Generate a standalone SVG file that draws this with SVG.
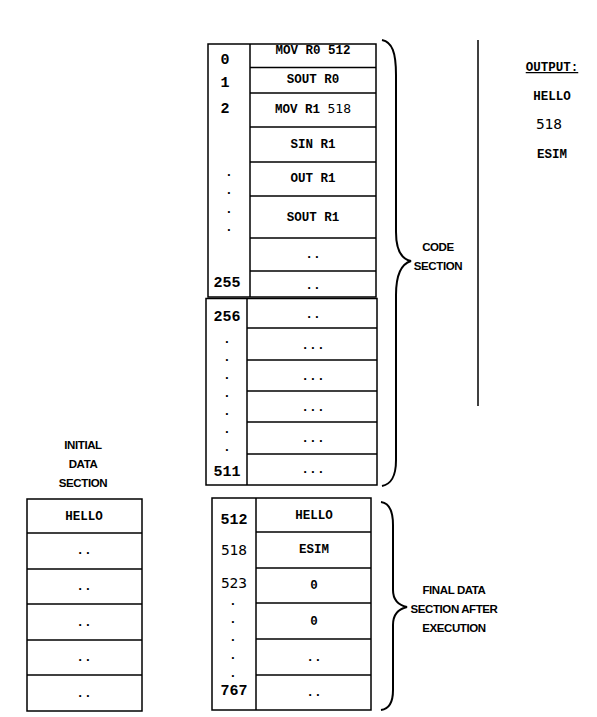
<svg xmlns="http://www.w3.org/2000/svg" width="597" height="717" viewBox="0 0 597 717">
  <style>
    .cell { fill: #ffffff; stroke: #000000; stroke-width: 1.5; }
    .ln { stroke: #000000; stroke-width: 1.5; fill: none; }
    .brace { stroke: #000000; stroke-width: 2; fill: none; }
    .ins { font-family: "Liberation Mono", "Courier New", monospace; font-weight: bold; font-size: 12.5px; text-anchor: middle; fill: #000; }
    .num { font-family: "Liberation Mono", "Courier New", monospace; font-weight: bold; font-size: 15px; text-anchor: middle; fill: #000; }
    .lite { font-family: "DejaVu Sans Mono", monospace; font-weight: normal; }
    .litenum { font-family: "DejaVu Sans Mono", monospace; font-size: 14.5px; text-anchor: middle; fill: #000; }
    .dot { font-family: "Liberation Mono", monospace; font-weight: bold; font-size: 13px; text-anchor: middle; fill: #000; }
    .lbl { font-family: "Liberation Sans", Arial, sans-serif; font-weight: bold; font-size: 11.5px; letter-spacing: -0.4px; text-anchor: middle; fill: #000; }
  </style>

  <!-- code section, addresses 0..255 -->
  <g id="code-block-a">
    <rect class="cell" x="208" y="44" width="168" height="253"/>
    <line class="ln" x1="250" y1="44" x2="250" y2="297"/>
    <line class="ln" x1="250" y1="67.5" x2="376" y2="67.5"/>
    <line class="ln" x1="250" y1="93" x2="376" y2="93"/>
    <line class="ln" x1="250" y1="127" x2="376" y2="127"/>
    <line class="ln" x1="250" y1="162" x2="376" y2="162"/>
    <line class="ln" x1="250" y1="196" x2="376" y2="196"/>
    <line class="ln" x1="250" y1="238" x2="376" y2="238"/>
    <line class="ln" x1="250" y1="271" x2="376" y2="271"/>
    <text class="num" x="225" y="64">0</text>
    <text class="num" x="225" y="87">1</text>
    <text class="num" x="225" y="113">2</text>
    <text class="dot" x="229" y="176">.</text>
    <text class="dot" x="229" y="194">.</text>
    <text class="dot" x="229" y="213">.</text>
    <text class="dot" x="229" y="231">.</text>
    <text class="num" x="227" y="287">255</text>
    <text class="ins" x="313" y="54">MOV R0 512</text>
    <text class="ins" x="313" y="83">SOUT R0</text>
    <text class="ins" x="313" y="113">MOV R1 <tspan class="lite" font-size="13">518</tspan></text>
    <text class="ins" x="313" y="148">SIN R1</text>
    <text class="ins" x="313" y="182">OUT R1</text>
    <text class="ins" x="313" y="221">SOUT R1</text>
    <text class="dot" x="313" y="258">..</text>
    <text class="dot" x="313" y="289">..</text>
  </g>

  <!-- code section, addresses 256..511 -->
  <g id="code-block-b">
    <rect class="cell" x="206" y="298.5" width="171" height="186.5"/>
    <line class="ln" x1="247" y1="298.5" x2="247" y2="485"/>
    <line class="ln" x1="247" y1="328" x2="377" y2="328"/>
    <line class="ln" x1="247" y1="360" x2="377" y2="360"/>
    <line class="ln" x1="247" y1="391" x2="377" y2="391"/>
    <line class="ln" x1="247" y1="422" x2="377" y2="422"/>
    <line class="ln" x1="247" y1="454" x2="377" y2="454"/>
    <text class="num" x="227" y="321">256</text>
    <text class="dot" x="227" y="343">.</text>
    <text class="dot" x="227" y="361">.</text>
    <text class="dot" x="227" y="379">.</text>
    <text class="dot" x="227" y="397">.</text>
    <text class="dot" x="227" y="415">.</text>
    <text class="dot" x="227" y="433">.</text>
    <text class="dot" x="227" y="451">.</text>
    <text class="num" x="227" y="476">511</text>
    <text class="dot" x="313" y="318">..</text>
    <text class="dot" x="313" y="349">...</text>
    <text class="dot" x="313" y="380">...</text>
    <text class="dot" x="313" y="411">...</text>
    <text class="dot" x="313" y="442">...</text>
    <text class="dot" x="313" y="473">...</text>
  </g>

  <!-- initial data section -->
  <g id="initial-data">
    <text class="lbl" x="83" y="449">INITIAL</text>
    <text class="lbl" x="83" y="468">DATA</text>
    <text class="lbl" x="83" y="487">SECTION</text>
    <rect class="cell" x="27" y="499" width="115" height="212"/>
    <line class="ln" x1="27" y1="533" x2="142" y2="533"/>
    <line class="ln" x1="27" y1="569" x2="142" y2="569"/>
    <line class="ln" x1="27" y1="604" x2="142" y2="604"/>
    <line class="ln" x1="27" y1="640" x2="142" y2="640"/>
    <line class="ln" x1="27" y1="675" x2="142" y2="675"/>
    <text class="ins" x="84" y="520">HELLO</text>
    <text class="dot" x="84" y="554">..</text>
    <text class="dot" x="84" y="590">..</text>
    <text class="dot" x="84" y="626">..</text>
    <text class="dot" x="84" y="661">..</text>
    <text class="dot" x="84" y="697">..</text>
  </g>

  <!-- final data section -->
  <g id="final-data">
    <rect class="cell" x="212" y="498" width="159" height="212"/>
    <line class="ln" x1="256" y1="498" x2="256" y2="710"/>
    <line class="ln" x1="256" y1="532" x2="371" y2="532"/>
    <line class="ln" x1="256" y1="568" x2="371" y2="568"/>
    <line class="ln" x1="256" y1="603" x2="371" y2="603"/>
    <line class="ln" x1="256" y1="639" x2="371" y2="639"/>
    <line class="ln" x1="256" y1="675" x2="371" y2="675"/>
    <text class="num" x="234" y="524">512</text>
    <text class="litenum" x="234" y="555">518</text>
    <text class="litenum" x="234" y="588">523</text>
    <text class="dot" x="233" y="605">.</text>
    <text class="dot" x="233" y="623">.</text>
    <text class="dot" x="233" y="641">.</text>
    <text class="dot" x="233" y="659">.</text>
    <text class="dot" x="233" y="677">.</text>
    <text class="num" x="234" y="695">767</text>
    <text class="ins" x="314" y="519">HELLO</text>
    <text class="ins" x="314" y="553">ESIM</text>
    <text class="ins" x="314" y="589">0</text>
    <text class="ins" x="314" y="625">0</text>
    <text class="dot" x="314" y="661">..</text>
    <text class="dot" x="314" y="696">..</text>
  </g>

  <!-- output column -->
  <g id="output">
    <text class="ins" x="552" y="71" text-decoration="underline">OUTPUT:</text>
    <text class="ins" x="552" y="100">HELLO</text>
    <text class="litenum" x="549" y="129" font-size="13">518</text>
    <text class="ins" x="552" y="158">ESIM</text>
  </g>

  <!-- labels -->
  <g id="code-label">
    <text class="lbl" x="438" y="251">CODE</text>
    <text class="lbl" x="438" y="270">SECTION</text>
  </g>
  <g id="final-label">
    <text class="lbl" x="454" y="594">FINAL DATA</text>
    <text class="lbl" x="454" y="613">SECTION AFTER</text>
    <text class="lbl" x="454" y="632">EXECUTION</text>
  </g>

  <!-- braces and separator -->
  <g id="connectors">
    <path class="brace" d="M382,40 C392,42 396,52 396,75 L396,232 C396,250 401,259 411,261 C401,264 396,274 396,295 L396,460 C396,477 391,484 382,486"/>
    <path class="brace" d="M381,502 C389,503 393,510 393,525 L393,590 C393,600 398,605 407,607 C398,609 393,614 393,625 L393,690 C393,703 389,709 381,710"/>
    <line class="ln" x1="478" y1="40" x2="478" y2="406"/>
  </g>
</svg>
